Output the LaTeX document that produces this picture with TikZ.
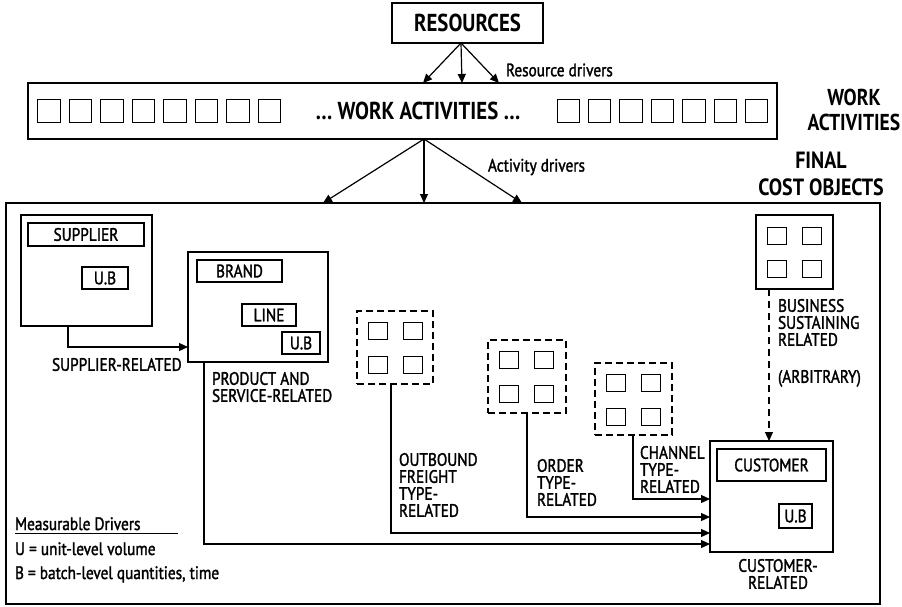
\documentclass[tikz,border=0pt]{standalone}
\usepackage{fontspec}
\newfontfamily\labfont{PT Sans}[FakeStretch=0.85, FakeBold=1.6]
\newfontfamily\titlefont{PT Sans Bold}[FakeStretch=0.85]
\usetikzlibrary{arrows.meta,fit}
\begin{document}
\begin{tikzpicture}[x=1pt,y=-1pt,
  every node/.style={inner sep=0pt, outer sep=0pt},
  txt/.style={font=\labfont\fontsize{18}{17}\selectfont, align=left},
  btxt/.style={font=\titlefont\fontsize{24.5}{25}\selectfont, align=center},
  box/.style={draw, line width=1.2pt},
  dbox/.style={draw, line width=2.2pt, dash pattern=on 7pt off 4pt},
  sq/.style={draw, line width=1pt, minimum width=19pt, minimum height=17pt},
  wsq/.style={draw, line width=1pt, minimum width=22.5pt, minimum height=23pt},
  conn/.style={line width=1.2pt, -{Triangle[length=9pt,width=8pt]}},
  dconn/.style={line width=1.2pt, dash pattern=on 7pt off 5pt, -{Triangle[length=9pt,width=8pt]}},
]
\useasboundingbox (0,0) rectangle (902,606);

% top
\node[box, line width=1.5pt, fit={(392,3)(543,43)}] (res) {};
\node[btxt] at (res.center) {RESOURCES};
\node[box, line width=1.5pt, fit={(28,83)(777,139)}] (wa) {};
\foreach \i in {0,...,7} \node[wsq] at ({48.8+31.5*\i},110.5) {};
\foreach \i in {0,...,6} \node[wsq] at ({568.3+31.4*\i},110.5) {};
\node[btxt] at (418,111) {… WORK ACTIVITIES …};
\node[btxt, font=\titlefont\fontsize{23}{25}\selectfont] at (854,110) {WORK\\ACTIVITIES};
\node[btxt, font=\titlefont\fontsize{23.5}{27}\selectfont] at (821,174) {FINAL\\COST OBJECTS};

\coordinate (ra) at (461,43);
\coordinate (rt1) at (423,83);
\coordinate (rt2) at (462,83);
\coordinate (rt3) at (499,83);
\draw[conn] (ra) -- (rt1);
\draw[conn] (ra) -- (rt2);
\draw[conn] (ra) -- (rt3);
\node[txt, anchor=west] at (506,70) {Resource drivers};

\coordinate (aa) at (424,139);
\coordinate (at1) at (323,203);
\coordinate (at2) at (424,203);
\coordinate (at3) at (522,203);
\draw[conn] (aa) -- (at1);
\draw[conn] (aa) -- (at2);
\draw[conn] (aa) -- (at3);
\node[txt, anchor=west] at (488,167) {Activity drivers};

% main frame
\node[draw, line width=2.5pt, fit={(6,203)(880,604)}] (main) {};

% supplier
\node[box, fit={(21,215)(152,326)}] (sup) {};
\node[box, fit={(28,223)(144,246)}] (supl) {};
\node[txt] at (supl.center) {SUPPLIER};
\node[box, fit={(82,267)(128,289)}] (supu) {};
\node[txt] at (supu.center) {U.B};

% brand
\node[box, fit={(188,252)(328,362)}] (brand) {};
\node[box, fit={(197,260)(282,282)}] (brandl) {};
\node[txt] at (brandl.center) {BRAND};
\node[box, fit={(242,304)(296,326)}] (line) {};
\node[txt] at (line.center) {LINE};
\node[box, fit={(282,332)(320,354)}] (brandu) {};
\node[txt] at (brandu.center) {U.B};

% dashed groups
\node[dbox, fit={(357,311)(433,384)}] (d1) {};
\foreach \dx in {21,56} \foreach \dy in {20,54} \node[sq] at ({357+\dx},{311+\dy}) {};
\node[dbox, fit={(488,340)(566,413)}] (d2) {};
\foreach \dx in {21,56} \foreach \dy in {20,54} \node[sq] at ({488+\dx},{340+\dy}) {};
\node[dbox, fit={(595,363)(672,435)}] (d3) {};
\foreach \dx in {21,56} \foreach \dy in {20,54} \node[sq] at ({595+\dx},{363+\dy}) {};

% business sustaining
\node[box, fit={(756,215)(833,289)}] (bus) {};
\foreach \dx in {21,56} \foreach \dy in {21,54} \node[sq] at ({756+\dx},{215+\dy}) {};

% customer
\node[box, fit={(710,441)(833,552)}] (cust) {};
\node[box, fit={(717,449)(826,481)}] (custl) {};
\node[txt] at (custl.center) {CUSTOMER};
\node[box, fit={(779,504)(812,528)}] (custu) {};
\node[txt] at (custu.center) {U.B};

% connectors
\draw[conn] (sup.south -| 68,0) |- (brand.west |- 0,347);
\draw[conn] (brand.south -| 204,0) |- (cust.west |- 0,544);
\draw[conn] (d1.south -| 391,0) |- (cust.west |- 0,533);
\draw[conn] (d2.south -| 527,0) |- (cust.west |- 0,517);
\draw[conn] (d3.south -| 633,0) |- (cust.west |- 0,499);
\draw[dconn] (bus.south -| 769,0) -- (cust.north -| 769,0);

% labels
\node[txt, anchor=north west] at (52,358) {SUPPLIER-RELATED};
\node[txt, anchor=north west] at (212,372) {PRODUCT AND\\SERVICE-RELATED};
\node[txt, anchor=north west] at (399,453) {OUTBOUND\\FREIGHT\\TYPE-\\RELATED};
\node[txt, anchor=north west] at (537,459) {ORDER\\TYPE-\\RELATED};
\node[txt, anchor=north west] at (640,446) {CHANNEL\\TYPE-\\RELATED};
\node[txt, anchor=north west] at (778,299) {BUSINESS\\SUSTAINING\\RELATED\\[20pt](ARBITRARY)};
\node[txt, align=center, anchor=north] at (778,559) {CUSTOMER-\\RELATED};

\node[txt, anchor=base west] (md) at (15,530) {Measurable Drivers};
\draw[line width=1pt] (15,533) -- (178,533);
\node[txt, anchor=base west] at (15,555) {U = unit-level volume};
\node[txt, anchor=base west] at (15,579) {B = batch-level quantities, time};
\end{tikzpicture}
\end{document}
